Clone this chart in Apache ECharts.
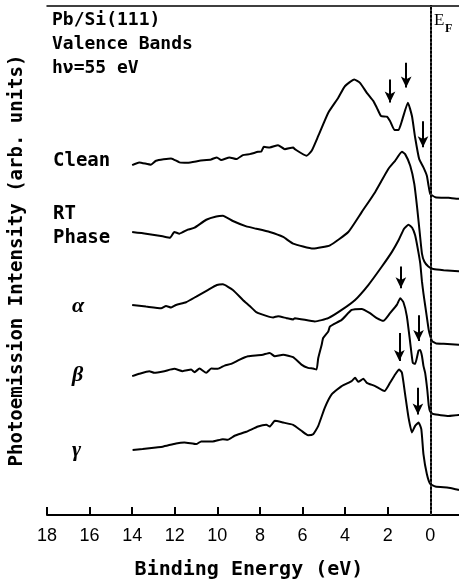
<!DOCTYPE html>
<html>
<head>
<meta charset="utf-8">
<script src="https://cdn.jsdelivr.net/npm/echarts@6/dist/echarts.min.js"></script>
<style>html,body{margin:0;padding:0;background:#fff}#chart{width:459px;height:585px}</style>
</head>
<body>
<div id="chart"></div>
<script>
// Binding energy (eV) vs photoemission intensity (arb. units, curves vertically offset)
const cleanData = [[14.0,352],[13.67,354.7],[13.12,352.3],[12.88,356.3],[12.17,358.7],[11.78,354.7],[11.40,354.3],[10.84,356.3],[10.29,357.7],[10.02,359.7],[9.82,357],[9.43,359.7],[9.11,358],[8.80,362],[8.48,363],[8.09,365.3],[7.93,365.7],[7.82,370.3],[7.54,369.7],[7.15,372],[6.83,368],[6.44,369.7],[6.36,368],[5.81,361.3],[5.57,366.3],[5.26,381.3],[4.79,404.7],[4.32,419.7],[4.01,431.3],[3.57,438],[3.30,434.7],[2.98,424.7],[2.67,416.3],[2.51,409.7],[2.31,401.3],[2.04,400.7],[1.89,396.3],[1.68,387.3],[1.49,387.3],[1.31,398],[1.05,414.7],[0.86,401.3],[0.71,379.7],[0.52,358],[0.32,349.7],[0.16,341.3],[0.08,331.3],[0.0,323],[-0.24,319.7],[-0.86,319],[-1.33,318],[-1.6,318]];
const rtData = [[14.0,284.7],[13.35,283],[12.57,280.3],[12.22,279],[12.02,284.7],[11.78,283],[11.39,287],[11.07,289],[10.52,297],[10.05,300.3],[9.74,301],[9.27,295.7],[8.64,290.3],[8.17,288],[7.54,284.7],[6.91,279.7],[6.44,273],[5.50,268],[4.71,271.3],[3.85,284.7],[3.22,304.7],[2.59,324.7],[1.97,348],[1.65,356.3],[1.33,365.3],[1.18,363],[0.94,351.3],[0.75,333],[0.61,308],[0.49,283],[0.39,263],[0.28,255],[0.09,250],[-0.14,247.5],[-0.63,246.3],[-1.33,245.3],[-1.6,245]];
const alphaData = [[14.0,211.3],[13.35,209.7],[12.64,208],[12.41,210.3],[12.17,208.7],[11.94,211.3],[11.47,214],[10.99,219.7],[10.45,226.3],[10.02,231.3],[9.74,232],[9.27,226.3],[8.80,216.3],[8.48,210.3],[8.17,204],[7.70,200.3],[7.38,198.7],[7.15,200],[6.75,198],[6.44,196.7],[6.36,198],[5.42,194.7],[4.79,198],[4.16,206.3],[3.53,216.3],[2.91,231.3],[2.28,249.7],[1.80,264.7],[1.49,276.3],[1.23,288],[1.02,292],[0.85,289],[0.71,281.3],[0.57,266],[0.47,253],[0.39,235],[0.32,223],[0.24,211],[0.14,196],[0.07,186],[0.0,180],[-0.09,175],[-0.28,172.5],[-0.63,172.3],[-1.33,171.3],[-1.6,171]];
const betaData = [[14.0,139.7],[13.67,142],[13.20,144.7],[12.96,143],[12.49,144.7],[12.02,147],[11.63,144.7],[11.23,146.3],[11.07,143.7],[10.84,147.3],[10.52,143],[10.29,147.3],[9.98,147],[9.66,150.3],[9.35,152],[8.95,156.3],[8.56,159.7],[8.09,160.7],[7.86,161.3],[7.54,163],[7.30,159.7],[6.91,161.3],[6.44,158.7],[6.05,151.3],[5.74,148],[5.50,147.3],[5.34,146.3],[5.26,158],[5.10,171.3],[5.03,178],[4.79,184.7],[4.71,189.7],[4.16,196.3],[3.69,206.3],[3.22,207.3],[2.83,203],[2.51,198],[2.20,195.3],[1.89,203],[1.57,211.3],[1.41,218],[1.26,214],[1.10,200],[0.94,173],[0.82,153],[0.71,152],[0.55,165.3],[0.47,166],[0.39,160],[0.32,150],[0.24,143],[0.14,126],[0.07,110],[0.0,104],[-0.14,101.5],[-0.86,99.7],[-1.33,100.7],[-1.6,100.5]];
const gammaData = [[13.98,65.3],[13.51,66.3],[12.88,68],[12.57,68.7],[11.94,72],[11.55,73],[10.99,71.3],[10.76,74],[10.21,74],[9.74,76.3],[9.51,75.7],[9.19,79.7],[8.64,83.7],[8.09,89],[7.70,90.7],[7.54,89],[7.30,94.7],[6.91,93],[6.44,90.7],[6.05,84.7],[5.74,80.3],[5.50,81.3],[5.26,89.7],[4.95,108],[4.63,121.3],[4.16,129.7],[3.69,134.7],[3.53,138],[3.38,134],[3.14,137],[2.98,133],[2.59,129.7],[2.15,124.7],[1.89,133],[1.65,141.3],[1.46,146.3],[1.33,143],[1.18,121.3],[1.02,98],[0.86,83],[0.71,89.7],[0.55,93],[0.42,86.3],[0.32,61.3],[0.16,41.3],[0.0,31.3],[-0.24,28.7],[-0.86,27.3],[-1.33,25.3],[-1.6,25]];

// Arrows: [energy, start intensity, end intensity]
const cleanArrows = [[1.89,438,415],[1.13,455,430],[0.34,396,370]];
const rtArrows = [];
const alphaArrows = [[1.38,250,228]];
const betaArrows = [[1.45,183,155],[0.55,201,175]];
const gammaArrows = [[0.58,128,101]];

// Fermi level position (eV)
const fermiEnergy = 0;

const xTicks = [18,16,14,12,10,8,6,4,2,0];
const xMin = -1.35, xMax = 18;
const yMin = 0, yMax = 512;

const monoFont = "'DejaVu Sans Mono', 'Liberation Mono', monospace";

function arrowLines(list){
  return list.map(a => [{coord:[a[0], a[1]]},{coord:[a[0], a[2]]}]);
}
function mkSeries(name, data, arrows){
  return {
    name: name, type: 'line', data: data, showSymbol: false, symbol: 'none', smooth: 0.15,
    lineStyle: {color: '#000', width: 2}, silent: true, animation: false,
    markLine: {
      silent: true, animation: false,
      symbol: ['none','arrow'], symbolSize: [8, 11],
      lineStyle: {color: '#000', width: 2, type: 'solid'},
      label: {show: false},
      data: arrowLines(arrows)
    }
  };
}

const chart = echarts.init(document.getElementById('chart'), null, {renderer: 'canvas'});
const series = [
  {name: 'EF', type: 'line', data: [], showSymbol: false, symbol: 'none', silent: true,
   markLine: {silent: true, animation: false, symbol: ['none', 'none'], label: {show: false},
     lineStyle: {color: '#555', width: 1.5, type: [1.5, 2.5], opacity: 1},
     data: [{xAxis: fermiEnergy}]}},
  mkSeries('Clean', cleanData, cleanArrows),
  mkSeries('RT Phase', rtData, rtArrows),
  mkSeries('α', alphaData, alphaArrows),
  mkSeries('β', betaData, betaArrows),
  mkSeries('γ', gammaData, gammaArrows)
];

chart.setOption({
  backgroundColor: '#fff',
  animation: false,
  grid: {left: 47, top: 6, bottom: 67, right: 0, containLabel: false},
  xAxis: [{
    type: 'value', inverse: true, min: xMin, max: xMax, position: 'bottom',
    axisLine: {show: true, lineStyle: {color: '#000', width: 2}},
    axisTick: {show: true, inside: true, length: 8, customValues: xTicks, lineStyle: {color: '#000', width: 2}},
    axisLabel: {color: '#000', fontSize: 18, fontFamily: "'Liberation Sans', Arial, sans-serif", margin: 12,
      customValues: xTicks, showMinLabel: true, showMaxLabel: true},
    splitLine: {show: false},
    name: 'Binding Energy (eV)', nameLocation: 'middle', nameGap: 45,
    nameTextStyle: {color: '#000', fontSize: 20, fontWeight: 'bold', fontFamily: monoFont, padding: [0, 8, 0, 0]}
  }, {
    type: 'value', inverse: true, min: xMin, max: xMax, position: 'top',
    axisLine: {show: true, lineStyle: {color: '#000', width: 1.5}},
    axisTick: {show: false}, axisLabel: {show: false}, splitLine: {show: false}
  }],
  yAxis: {
    type: 'value', min: yMin, max: yMax,
    axisLine: {show: true, lineStyle: {color: '#000', width: 2}},
    axisTick: {show: false}, axisLabel: {show: false}, splitLine: {show: false},
    name: 'Photoemission Intensity (arb. units)', nameLocation: 'middle', nameGap: 20, nameRotate: 90,
    nameTextStyle: {color: '#000', fontSize: 19, fontWeight: 'bold', fontFamily: monoFont}
  },
  graphic: [
    {type:'text', left: 52, top: 11, style:{text:'Pb/Si(111)', font:"bold 18px 'DejaVu Sans Mono', monospace", fill:'#000'}},
    {type:'text', left: 52, top: 35, style:{text:'Valence Bands', font:"bold 18px 'DejaVu Sans Mono', monospace", fill:'#000'}},
    {type:'text', left: 52, top: 59, style:{text:'hν=55 eV', font:"bold 18px 'DejaVu Sans Mono', monospace", fill:'#000'}},
    {type:'text', left: 53, top: 152, style:{text:'Clean', font:"bold 19px 'DejaVu Sans Mono', monospace", fill:'#000'}},
    {type:'text', left: 53, top: 205, style:{text:'RT', font:"bold 19px 'DejaVu Sans Mono', monospace", fill:'#000'}},
    {type:'text', left: 53, top: 229, style:{text:'Phase', font:"bold 19px 'DejaVu Sans Mono', monospace", fill:'#000'}},
    {type:'text', left: 72, top: 295, style:{text:'α', font:"italic bold 22px 'Liberation Serif', serif", fill:'#000'}},
    {type:'text', left: 72, top: 364, style:{text:'β', font:"italic bold 22px 'Liberation Serif', serif", fill:'#000'}},
    {type:'text', left: 72, top: 439, style:{text:'γ', font:"italic bold 22px 'Liberation Serif', serif", fill:'#000'}},
    {type:'text', left: 434, top: 12, style:{text:'E', font:"17px 'Liberation Serif', serif", fill:'#000'}},
    {type:'text', left: 445, top: 23, style:{text:'F', font:"bold 12px 'Liberation Serif', serif", fill:'#000'}}
  ],
  series: series
});
</script>
</body>
</html>
